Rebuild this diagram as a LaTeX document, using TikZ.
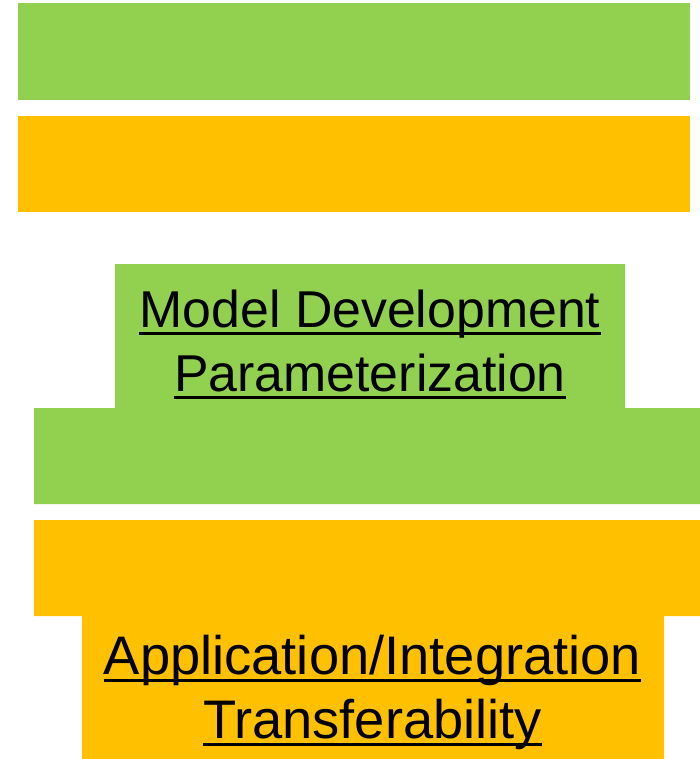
\documentclass[tikz,border=0pt]{standalone}
\usepackage{fontspec}
\setmainfont{Liberation Sans}
\definecolor{mygreen}{HTML}{92D050}
\definecolor{myorange}{HTML}{FFC000}
\tikzset{
  lbl/.style={anchor=base, inner sep=0pt, font=\fontsize{52}{64}\selectfont, text=black},
  lblb/.style={lbl, font=\fontsize{54.5}{64}\selectfont},
  uline/.style={line width=2.6bp, black}
}
\begin{document}
\begin{tikzpicture}[x=1bp, y=-1bp]
\useasboundingbox (0,0) rectangle (700,759);
\fill[mygreen] (18,3) rectangle (690,100);
\fill[myorange] (18,116) rectangle (690,212);
\fill[mygreen] (115,264) -- (625,264) -- (625,408) -- (700,408) -- (700,504) -- (34,504) -- (34,408) -- (115,408) -- cycle;
\fill[myorange] (34,520) -- (700,520) -- (700,616) -- (664,616) -- (664,759) -- (82,759) -- (82,616) -- (34,616) -- cycle;
\node[lbl] (m1) at (370,327) {Model Development};
\node[lbl] (m2) at (370,391) {Parameterization};
\node[lblb] (a1) at (372.5,674) {Application/Integration};
\node[lblb] (a2) at (372.5,738) {Transferability};
\foreach \n in {m1,m2}{
  \draw[uline] ([yshift=-6.3pt]\n.base west) -- ([yshift=-6.3pt]\n.base east);
}
\foreach \n in {a1,a2}{
  \draw[uline] ([yshift=-6.8pt]\n.base west) -- ([yshift=-6.8pt]\n.base east);
}
\end{tikzpicture}
\end{document}
